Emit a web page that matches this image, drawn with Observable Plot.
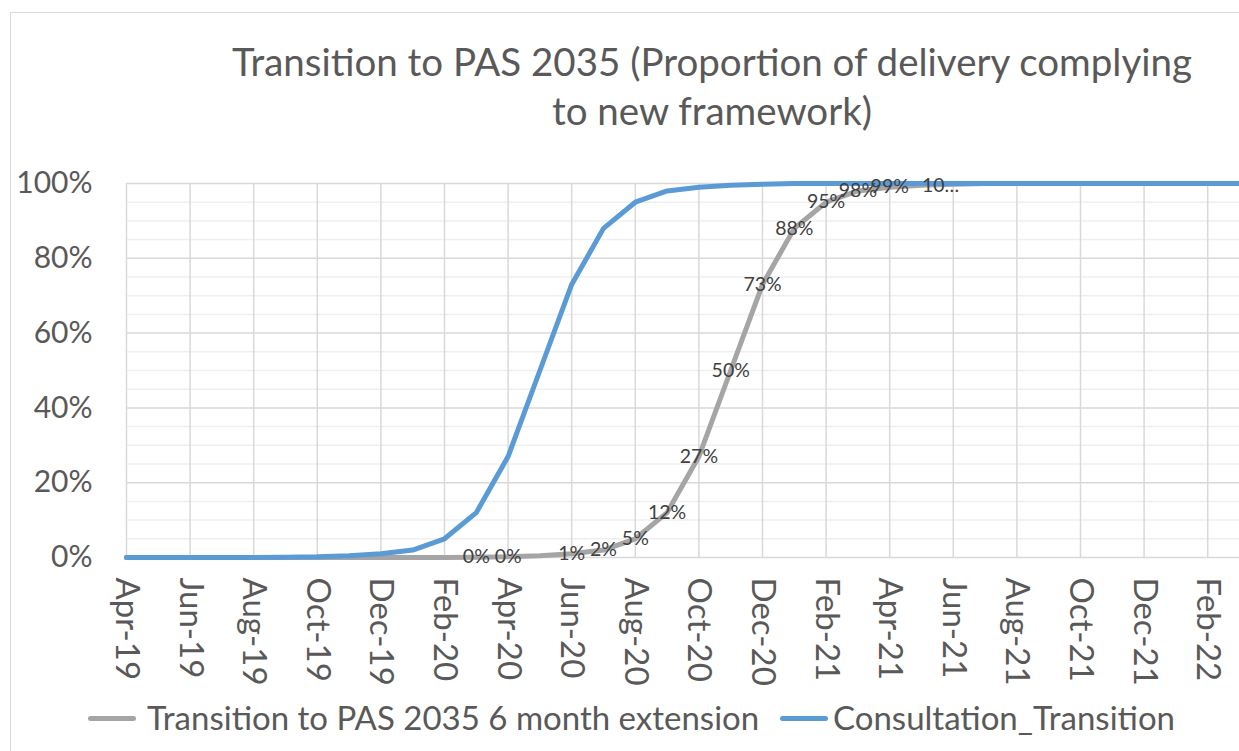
<!DOCTYPE html>
<html>
<head>
<meta charset="utf-8">
<script src="https://cdn.jsdelivr.net/npm/d3@7"></script>
<script src="https://cdn.jsdelivr.net/npm/@observablehq/plot@0.6"></script>
<style>
  html, body { margin: 0; padding: 0; background: #fff; }
  body { width: 1239px; height: 751px; overflow: hidden; position: relative; font-family: Lato, "Noto Sans", sans-serif; color: #595959; }
  #frame { position: absolute; left: 10px; top: 12px; width: 1300px; height: 800px; border-left: 1.5px solid #d9d9d9; border-top: 1.5px solid #d9d9d9; }
  #title { position: absolute; top: 37px; left: 712px; transform: translateX(-50%); white-space: nowrap; text-align: center; font-size: 38.5px; line-height: 49px; color: #595959; }
  #chart { position: absolute; left: 0; top: 150px; }
  #legend { position: absolute; left: 0; top: 690px; width: 1239px; height: 61px; font-size: 33px; color: #595959; }
  .sw { position: absolute; top: 26px; height: 5px; border-radius: 3px; }
  .lt { position: absolute; top: 9px; white-space: nowrap; line-height: 36px; }
</style>
</head>
<body>
<div id="frame"></div>
<div id="title">Transition to PAS 2035 (Proportion of delivery complying<br>to new framework)</div>
<div id="chart"></div>
<div id="legend"></div>
<script>
// Months on the category/date axis (Apr-19 .. Mar-22)
const months = ["Apr-19","May-19","Jun-19","Jul-19","Aug-19","Sep-19","Oct-19","Nov-19","Dec-19",
  "Jan-20","Feb-20","Mar-20","Apr-20","May-20","Jun-20","Jul-20","Aug-20","Sep-20","Oct-20","Nov-20","Dec-20",
  "Jan-21","Feb-21","Mar-21","Apr-21","May-21","Jun-21","Jul-21","Aug-21","Sep-21","Oct-21","Nov-21","Dec-21",
  "Jan-22","Feb-22","Mar-22"];

// Series values (percent)
const extensionValues = [0,0,0,0,0,0,0,0,0,0,0,0.1,0.2,0.5,1,2,5,12,27,50,73,88,95,98,99,99.5,99.8,100,100,100,100,100,100,100,100,100];
const consultationValues = [0,0,0,0,0,0.1,0.2,0.5,1,2,5,12,27,50,73,88,95,98,99,99.5,99.8,100,100,100,100,100,100,100,100,100,100,100,100,100,100,100];

// Data labels shown on the extension series
const extensionLabels = ["","","","","","","","","","","","0%","0%","","1%","2%","5%","12%","27%","50%","73%","88%","95%","98%","99%","10…","","","","","","","","","",""];

// Axis ticks
const xTickIdx = [0,2,4,6,8,10,12,14,16,18,20,22,24,26,28,30,32,34];
const yMajor = [0,20,40,60,80,100];
const yMinor = [5,10,15,25,30,35,45,50,55,65,70,75,85,90,95];

const legendItems = ["Transition to PAS 2035 6 month extension", "Consultation_Transition"];
const colors = ["#a5a5a5", "#5b9bd5"];

const rows = months.map((m, i) => ({i, m, ext: extensionValues[i], con: consultationValues[i], lab: extensionLabels[i]}));

const plot = Plot.plot({
  width: 1239,
  height: 540,
  marginLeft: 126,
  marginRight: 0,
  marginTop: 33,
  marginBottom: 133,
  style: {fontFamily: "Lato, 'Noto Sans', sans-serif", background: "transparent", overflow: "visible"},
  x: {type: "linear", domain: [0, 35], axis: null},
  y: {domain: [0, 100], axis: null},
  marks: [
    Plot.ruleY(yMinor, {stroke: "#efefef", strokeWidth: 1.5}),
    Plot.ruleY(yMajor, {stroke: "#d9d9d9", strokeWidth: 1.5}),
    Plot.ruleX(xTickIdx, {y1: 0, y2: 100, stroke: "#d9d9d9", strokeWidth: 1.5}),
    Plot.text(yMajor, {x: 0, y: d => d, text: d => d + "%", textAnchor: "end", dx: -34, fontSize: 30, fill: "#595959"}),
    Plot.text(xTickIdx, {x: d => d, y: 0, text: d => months[d], rotate: 90, textAnchor: "start", lineAnchor: "middle", dy: 20, fontSize: 33, fill: "#595959"}),
    Plot.line(rows, {x: "i", y: "ext", stroke: colors[0], strokeWidth: 5, strokeLinejoin: "round"}),
    Plot.line(rows, {x: "i", y: "con", stroke: colors[1], strokeWidth: 5, strokeLinejoin: "round"}),
    Plot.text(rows.filter(d => d.lab && d.lab !== "10…"), {x: "i", y: "ext", text: "lab", fontSize: 19.5, fill: "#404040"}),
    Plot.text(rows.filter(d => d.lab === "10…"), {x: "i", y: "ext", text: "lab", fontSize: 19.5, fill: "#404040", dx: 19})
  ]
});
document.getElementById("chart").appendChild(plot);

const legend = document.getElementById("legend");
const swLeft = [88, 780], txtLeft = [147, 833];
legendItems.forEach((t, k) => {
  const s = document.createElement("div");
  s.className = "sw"; s.style.left = swLeft[k] + "px"; s.style.width = "48px"; s.style.background = colors[k];
  legend.appendChild(s);
  const l = document.createElement("div");
  l.className = "lt"; l.style.left = txtLeft[k] + "px"; l.textContent = t;
  legend.appendChild(l);
});
</script>
</body>
</html>
